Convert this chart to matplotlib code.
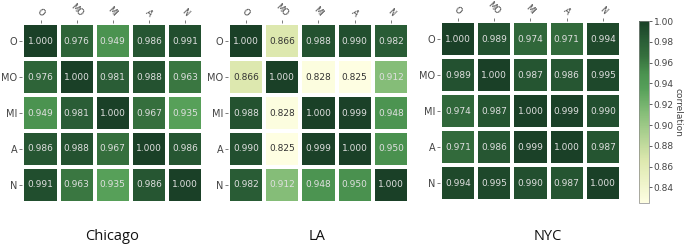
import matplotlib.pyplot as plt
import numpy as np
from matplotlib.colors import LinearSegmentedColormap, Normalize
from matplotlib.cm import ScalarMappable

labels = ['O', 'MO', 'MI', 'A', 'N']
cities = ['Chicago', 'LA', 'NYC']

chicago = [[1.000, 0.976, 0.949, 0.986, 0.991],
           [0.976, 1.000, 0.981, 0.988, 0.963],
           [0.949, 0.981, 1.000, 0.967, 0.935],
           [0.986, 0.988, 0.967, 1.000, 0.986],
           [0.991, 0.963, 0.935, 0.986, 1.000]]

la = [[1.000, 0.866, 0.988, 0.990, 0.982],
      [0.866, 1.000, 0.828, 0.825, 0.912],
      [0.988, 0.828, 1.000, 0.999, 0.948],
      [0.990, 0.825, 0.999, 1.000, 0.950],
      [0.982, 0.912, 0.948, 0.950, 1.000]]

nyc = [[1.000, 0.989, 0.974, 0.971, 0.994],
       [0.989, 1.000, 0.987, 0.986, 0.995],
       [0.974, 0.987, 1.000, 0.999, 0.990],
       [0.971, 0.986, 0.999, 1.000, 0.987],
       [0.994, 0.995, 0.990, 0.987, 1.000]]

cbar_ticks = [0.84, 0.86, 0.88, 0.90, 0.92, 0.94, 0.96, 0.98, 1.00]

vmin, vmax = 0.825, 1.0
cmap = LinearSegmentedColormap.from_list('greens', [
    (0.0, '#fefee2'), (0.234, '#dde8ae'), (0.497, '#85bd78'),
    (0.629, '#56a059'), (0.709, '#4b9350'), (0.811, '#356f3d'),
    (0.891, '#2a5e36'), (1.0, '#1a4027')])
norm = Normalize(vmin, vmax)

fig = plt.figure(figsize=(6.85, 2.46), dpi=100)
boxes = [[0.0328, 0.1748, 0.2635, 0.7317],
         [0.3328, 0.1748, 0.2642, 0.7317],
         [0.6423, 0.1829, 0.2642, 0.7317]]
title_x = [0.163, 0.463, 0.80]

for data, name, box, tx in zip([chicago, la, nyc], cities, boxes, title_x):
    ax = fig.add_axes(box)
    arr = np.array(data)
    ax.pcolormesh(arr, cmap=cmap, norm=norm, edgecolors='white', linewidth=1.5)
    ax.set_xlim(0, 5)
    ax.set_ylim(5, 0)
    for i in range(5):
        for j in range(5):
            v = arr[i, j]
            c = '#333333' if v < 0.9 else '#e0e0e0'
            ax.text(j + 0.5, i + 0.5, f'{v:.3f}', ha='center', va='center',
                    fontsize=6.5, color=c)
    ax.xaxis.tick_top()
    ax.set_xticks(np.arange(5) + 0.5)
    ax.set_xticklabels(labels, rotation=-45, ha='center', fontsize=6, color='#444444')
    ax.set_yticks(np.arange(5) + 0.5)
    ax.set_yticklabels(labels, fontsize=7, color='#444444')
    ax.tick_params(length=2, width=0.6, color='#666666', pad=1.5)
    for s in ax.spines.values():
        s.set_visible(False)
    fig.text(tx, 0.04, name, ha='center', va='center', fontsize=10.5,
             family='Open Sans', color='#111111')

cax = fig.add_axes([0.9328, 0.1748, 0.0146, 0.7398])
cb = fig.colorbar(ScalarMappable(norm=norm, cmap=cmap), cax=cax, ticks=cbar_ticks)
cb.outline.set_linewidth(0.5)
cb.outline.set_edgecolor('#888888')
cb.ax.set_yticklabels([f'{t:.2f}' for t in cbar_ticks])
cb.ax.tick_params(labelsize=6.5, length=2, width=0.6, colors='#444444', pad=1.5)
cb.set_label('correlation', rotation=270, fontsize=6.5, color='#444444', labelpad=6)

fig.savefig('out.png', dpi=100)
